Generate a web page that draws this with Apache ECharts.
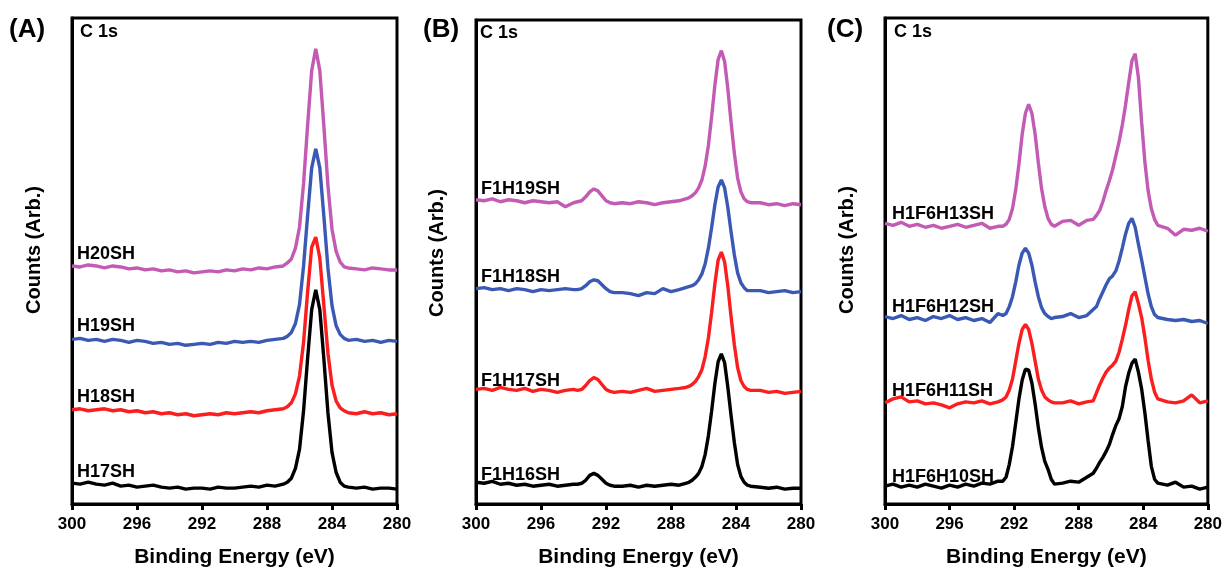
<!DOCTYPE html>
<html>
<head>
<meta charset="utf-8">
<script src="https://cdn.jsdelivr.net/npm/echarts@6/dist/echarts.min.js"></script>
<style>
  body { margin: 0; background: #fff; }
  #xps { width: 1225px; height: 573px; }
</style>
</head>
<body>
<div id="xps"></div>
<script>
// binding energy grids (eV) for each panel
var xA = [300, 299.5, 299, 298.5, 298, 297.5, 297, 296.5, 296, 295.5, 295, 294.5, 294, 293.5, 293, 292.5, 292, 291.5, 291, 290.5, 290, 289.5, 289, 288.5, 288, 287.5, 287,
  286.75, 286.5, 286.25, 286, 285.75, 285.5, 285.25, 285, 284.75, 284.5, 284.25, 284, 283.75, 283.5, 283.25,
  283, 282.5, 282, 281.5, 281, 280.5, 280];
var xB = [300, 299.5, 299, 298.5, 298, 297.5, 297, 296.5, 296, 295.5, 295, 294.5, 294,
  293.75, 293.5, 293.25, 293, 292.75, 292.5, 292.25, 292, 291.75, 291.5,
  291, 290.5, 290, 289.5, 289, 288.5, 288, 287.5,
  287.1, 286.9, 286.7, 286.5, 286.3, 286.1, 285.9, 285.7, 285.5, 285.3, 285.1, 284.9, 284.7, 284.5, 284.3, 284.1, 283.9, 283.7, 283.5, 283.3, 283.1,
  282.5, 282, 281.5, 281, 280.5, 280];
var xC = [300, 299.5, 299, 298.5, 298, 297.5, 297, 296.5, 296, 295.5, 295, 294.5, 294, 293.5, 293,
  292.7, 292.5, 292.3, 292.1, 291.9, 291.7, 291.5, 291.3, 291.1, 290.9, 290.7, 290.5, 290.3, 290.1, 289.9, 289.7, 289.5,
  289, 288.5, 288, 287.5,
  287.1, 286.9, 286.7, 286.5, 286.3, 286.1, 285.9, 285.7, 285.5, 285.3, 285.1, 284.9, 284.7, 284.5, 284.3, 284.1, 283.9, 283.7, 283.5, 283.3, 283.1,
  282.5, 282, 281.5, 281, 280.5, 280];

var xTicks = [300, 296, 292, 288, 284, 280];

// panel A, offset counts (arb.)
var H17SH = [21, 20, 22, 20, 19, 21, 18, 19, 17, 18, 19, 17, 16, 17, 15, 16, 16, 15, 17, 16, 16, 17, 18, 17, 19, 18, 20,
  22, 26, 36, 55, 94, 147, 196, 216, 196, 146, 92, 52, 32, 22, 18,
  17, 16, 17, 15, 16, 16, 15];
var H18SH = [95, 96, 94, 95, 96, 94, 95, 93, 94, 92, 93, 91, 92, 90, 91, 89, 90, 91, 90, 92, 91, 92, 93, 92, 94, 95, 96,
  98, 102, 111, 129, 163, 214, 259, 269, 248, 200, 152, 120, 104, 97, 94,
  92, 91, 93, 91, 92, 90, 91];
var H19SH = [166, 167, 165, 166, 164, 166, 165, 163, 165, 164, 162, 163, 161, 162, 160, 161, 162, 161, 163, 162, 164, 163, 164, 163, 165, 166, 167,
  169, 173, 182, 201, 240, 291, 339, 358, 339, 290, 238, 200, 180, 171, 167,
  165, 166, 164, 165, 163, 165, 164];
var H20SH = [240, 239, 241, 240, 238, 240, 239, 237, 238, 236, 237, 235, 236, 234, 235, 233, 234, 235, 234, 236, 235, 237, 236, 238, 237, 239, 240,
  243, 247, 258, 279, 323, 382, 437, 459, 437, 381, 321, 277, 255, 244, 239,
  238, 237, 236, 238, 237, 236, 236];

// panel B
var F1H16SH = [22, 21, 23, 20, 21, 19, 20, 18, 19, 20, 18, 19, 20,
  20, 21, 24, 29, 31, 29, 25, 21, 19, 18,
  18, 19, 17, 19, 18, 19, 20, 19,
  21, 22, 24, 27, 31, 38, 50, 69, 94, 122, 144, 152, 143, 118, 89, 62, 40, 28, 22, 19, 18,
  17, 16, 17, 15, 16, 16];
var F1H17SH = [116, 117, 115, 118, 116, 115, 117, 114, 116, 115, 113, 115, 116,
  115, 116, 120, 125, 128, 126, 121, 116, 114, 113,
  114, 113, 115, 117, 114, 115, 116, 117,
  118, 119, 121, 124, 129, 136, 149, 168, 194, 223, 247, 255, 245, 220, 189, 161, 138, 125, 119, 116, 115,
  115, 113, 114, 112, 113, 114];
var F1H18SH = [218, 219, 217, 218, 216, 218, 217, 215, 217, 216, 217, 218, 217,
  217, 218, 221, 225, 227, 226, 222, 218, 215, 214,
  214, 213, 211, 214, 213, 218, 215, 217,
  219, 220, 221, 223, 227, 233, 243, 259, 280, 303, 321, 328, 320, 300, 275, 252, 234, 224, 219, 216, 216,
  216, 214, 215, 216, 214, 215];
var F1H19SH = [308, 307, 309, 306, 308, 307, 305, 307, 306, 305, 306, 301, 305,
  306, 307, 311, 316, 319, 317, 312, 307, 305, 304,
  305, 304, 306, 305, 303, 305, 306, 307,
  309, 310, 312, 315, 320, 328, 342, 363, 392, 424, 450, 459, 448, 420, 386, 355, 330, 316, 309, 306, 305,
  305, 303, 304, 302, 304, 303];

// panel C
var H1F6H10SH = [18, 20, 17, 19, 17, 20, 18, 16, 19, 17, 20, 18, 21, 20, 23,
  23, 27, 40, 58, 82, 106, 125, 136, 135, 122, 101, 77, 57, 43, 35, 25, 20,
  21, 23, 22, 27,
  31, 36, 42, 47, 53, 60, 70, 79, 86, 98, 118, 132, 142, 146, 133, 116, 92, 64, 38, 25, 21,
  19, 22, 17, 18, 15, 17];
var H1F6H11SH = [102, 106, 108, 103, 104, 101, 102, 100, 97, 101, 103, 102, 104, 101, 103,
  105, 108, 115, 126, 144, 162, 176, 181, 176, 162, 144, 126, 115, 108, 105, 103, 102,
  102, 104, 101, 103,
  104, 112, 120, 127, 133, 137, 140, 144, 153, 166, 180, 196, 210, 214, 202, 188, 168, 145, 126, 113, 106,
  103, 102, 104, 110, 102, 104];
var H1F6H12SH = [189, 187, 190, 186, 188, 185, 189, 187, 190, 186, 188, 185, 187, 183, 192,
  190, 192, 199, 209, 224, 241, 253, 258, 253, 241, 224, 209, 198, 192, 189, 187, 188,
  189, 192, 188, 190,
  196, 199, 207, 214, 221, 227, 230, 235, 245, 258, 272, 283, 288, 279, 262, 246, 229, 212, 199, 191, 188,
  186, 185, 186, 184, 185, 182];
var H1F6H13SH = [283, 281, 284, 280, 282, 279, 281, 278, 280, 282, 279, 281, 283, 278, 280,
  280, 282, 287, 298, 317, 343, 373, 394, 403, 394, 373, 344, 318, 300, 288, 282, 280,
  285, 286, 281, 286,
  287, 291, 296, 305, 316, 326, 337, 351, 365, 382, 402, 425, 447, 454, 430, 385, 345, 316, 298, 287, 281,
  278, 271, 277, 276, 278, 275];

var FONT = '"Liberation Sans", Arial, sans-serif';
var colors = { black: '#000000', red: '#fa1e1e', blue: '#3a59b4', magenta: '#c35ab3' };

var grids = [
  { left: 72, top: 18, width: 325, height: 490 },
  { left: 476, top: 20, width: 325, height: 490 },
  { left: 885, top: 18, width: 325, height: 490 }
];

function line(g, xs, ys, color) {
  return {
    type: 'line',
    xAxisIndex: g,
    yAxisIndex: g,
    data: xs.map(function (x, i) { return [x, ys[i]]; }),
    symbol: 'none',
    lineStyle: { color: color, width: 3.4 },
    itemStyle: { color: color },
    z: 3
  };
}

function txt(x, y, s, size, extra) {
  var o = {
    type: 'text', x: x, y: y,
    style: { text: s, fill: '#000', font: 'bold ' + size + 'px ' + FONT, textVerticalAlign: 'middle', textAlign: 'left' }
  };
  if (extra) { for (var k in extra) o[k] = extra[k]; }
  return o;
}

var xAxes = [], yAxes = [];
grids.forEach(function (g, i) {
  g.show = true;
  g.borderColor = '#000';
  g.borderWidth = 3;
  g.backgroundColor = 'transparent';
  xAxes.push({
    gridIndex: i, type: 'value', inverse: true, min: 280, max: 300, interval: 4,
    axisLine: { show: true, onZero: false, lineStyle: { color: '#000', width: 3 } },
    axisTick: { show: true, inside: false, length: 6, lineStyle: { color: '#000', width: 3 } },
    axisLabel: { color: '#000', fontWeight: 'bold', fontSize: 17, fontFamily: FONT, margin: 12,
      showMinLabel: true, showMaxLabel: true,
      formatter: function (v) { return xTicks.indexOf(v) >= 0 ? String(v) : ''; } },
    splitLine: { show: false },
    name: 'Binding Energy (eV)', nameLocation: 'middle', nameGap: 43,
    nameTextStyle: { color: '#000', fontWeight: 'bold', fontSize: 21, fontFamily: FONT }
  });
  yAxes.push({
    gridIndex: i, type: 'value', min: 0, max: 490,
    axisLine: { show: true, lineStyle: { color: '#000', width: 3 } },
    axisTick: { show: false }, axisLabel: { show: false }, splitLine: { show: false }
  });
});

var graphic = [
  txt(9, 30, '(A)', 26), txt(423, 30, '(B)', 26), txt(827, 30, '(C)', 26),
  txt(80, 32, 'C 1s', 18), txt(480, 33, 'C 1s', 18), txt(894, 32, 'C 1s', 18),
  txt(34, 250, 'Counts (Arb.)', 20, { rotation: Math.PI / 2 }),
  txt(437, 253, 'Counts (Arb.)', 20, { rotation: Math.PI / 2 }),
  txt(847, 250, 'Counts (Arb.)', 20, { rotation: Math.PI / 2 }),
  txt(77, 254, 'H20SH', 18), txt(77, 326, 'H19SH', 18), txt(77, 397, 'H18SH', 18), txt(77, 472, 'H17SH', 18),
  txt(481, 189, 'F1H19SH', 18), txt(481, 277, 'F1H18SH', 18), txt(481, 381, 'F1H17SH', 18), txt(481, 475, 'F1H16SH', 18),
  txt(892, 214, 'H1F6H13SH', 18), txt(892, 307, 'H1F6H12SH', 18), txt(892, 391, 'H1F6H11SH', 18), txt(892, 477, 'H1F6H10SH', 18)
];
// centre the rotated titles
graphic.forEach(function (g) { if (g.rotation) g.style.textAlign = 'center'; });

var option = {
  animation: false,
  backgroundColor: '#fff',
  grid: grids,
  xAxis: xAxes,
  yAxis: yAxes,
  graphic: graphic,
  series: [
    line(0, xA, H20SH, colors.magenta),
    line(0, xA, H19SH, colors.blue),
    line(0, xA, H18SH, colors.red),
    line(0, xA, H17SH, colors.black),
    line(1, xB, F1H19SH, colors.magenta),
    line(1, xB, F1H18SH, colors.blue),
    line(1, xB, F1H17SH, colors.red),
    line(1, xB, F1H16SH, colors.black),
    line(2, xC, H1F6H13SH, colors.magenta),
    line(2, xC, H1F6H12SH, colors.blue),
    line(2, xC, H1F6H11SH, colors.red),
    line(2, xC, H1F6H10SH, colors.black)
  ]
};

var chart = echarts.init(document.getElementById('xps'));
chart.setOption(option);
</script>
</body>
</html>
